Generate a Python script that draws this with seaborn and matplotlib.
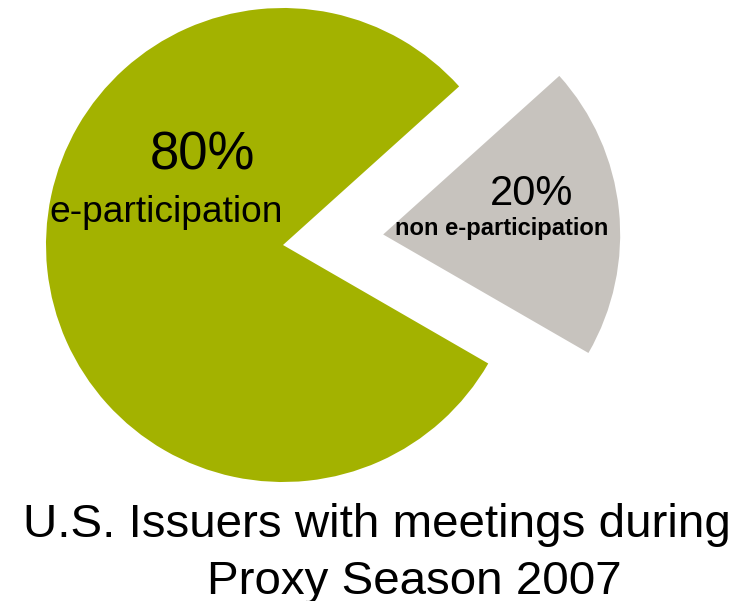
import matplotlib
matplotlib.use("Agg")
import matplotlib.pyplot as plt
import seaborn as sns

# Share of U.S. issuers using electronic participation, proxy season 2007
categories = ["e-participation", "non e-participation"]
shares = [80, 20]
slice_colors = ["#A3B200", "#C7C3BE"]
title_lines = ["U.S. Issuers with meetings during", "Proxy Season 2007"]

sns.set_theme(style="white")
plt.rcParams["font.family"] = ["Liberation Sans", "DejaVu Sans"]

W, H, DPI = 744, 601, 100
fig = plt.figure(figsize=(W / DPI, H / DPI), dpi=DPI)
ax = fig.add_axes([0, 0, 1, 1])

# pie centre and radius in pixels
cx, cy, rpx = 283, 245, 237

wedges, _ = ax.pie(
    shares,
    colors=slice_colors,
    startangle=42,
    counterclock=True,
    explode=[0, 0.425],
    radius=1.0,
    wedgeprops=dict(linewidth=0, antialiased=True),
)

ax.set_xlim(-cx / rpx, (W - cx) / rpx)
ax.set_ylim(-(H - cy) / rpx, cy / rpx)
ax.set_aspect("equal", adjustable="box")
ax.axis("off")


def pix(px, py):
    return (px - cx) / rpx, (cy - py) / rpx


# slice labels
x, y = pix(202, 170)
ax.text(x, y, f"{shares[0]}%", fontsize=38, ha="center", va="baseline", color="black")
x, y = pix(166.5, 222)
ax.text(x, y, categories[0], fontsize=26.7, ha="center", va="baseline", color="black")
x, y = pix(531.5, 205)
ax.text(x, y, f"{shares[1]}%", fontsize=30, ha="center", va="baseline", color="black")
x, y = pix(502, 235)
ax.text(x, y, categories[1], fontsize=17.1, fontweight="bold", ha="center",
        va="baseline", color="black")

# caption under the pie
fig.text(376.5 / W, 1 - 537 / H, title_lines[0], fontsize=34.2, ha="center",
         va="baseline", color="black")
fig.text(414 / W, 1 - 594 / H, title_lines[1], fontsize=34.2, ha="center",
         va="baseline", color="black")

fig.savefig("out.png", dpi=DPI, facecolor="white")
